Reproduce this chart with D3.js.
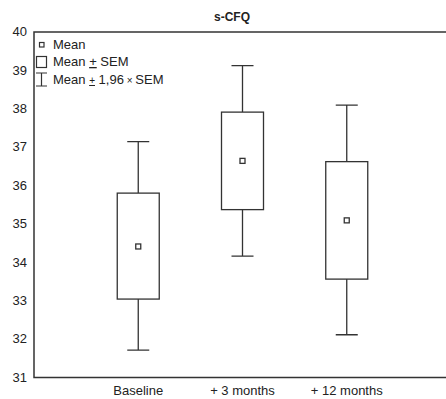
<!DOCTYPE html>
<html>
<head>
<meta charset="utf-8">
<script src="https://cdn.jsdelivr.net/npm/d3@7"></script>
<style>
  body { margin: 0; background: #fff; }
  text { font-family: "Liberation Sans", Arial, sans-serif; fill: #222; }
</style>
</head>
<body>
<div id="chart"></div>
<script>
// data
var categories = ["Baseline", "+ 3 months", "+ 12 months"];
var means = [34.40, 36.63, 35.08];
var semLow = [33.03, 35.36, 33.55];
var semHigh = [35.79, 37.90, 36.61];
var ciLow = [31.70, 34.15, 32.10];
var ciHigh = [37.13, 39.11, 38.08];
var yTicks = [31, 32, 33, 34, 35, 36, 37, 38, 39, 40];

var svgWidth = 446;
var svgHeight = 399;
var margin = { top: 32, bottom: 22, left: 34, right: 0 };
var lineColor = "#333";

var svg = d3.select("#chart")
    .append("svg")
    .attr("width", svgWidth)
    .attr("height", svgHeight);

var xScale = d3.scaleLinear()
    .domain([0, 4])
    .range([margin.left, 451]);

var yScale = d3.scaleLinear()
    .domain([31, 40])
    .range([377, 31.5]);

// title
svg.append("text")
    .attr("x", 232)
    .attr("y", 20.5)
    .attr("text-anchor", "middle")
    .style("font-weight", "bold")
    .style("font-size", "12px")
    .text("s-CFQ");

// y axis labels (no tick marks)
var yAxis = d3.axisLeft(yScale).tickValues(yTicks).tickSize(0).tickPadding(7);
var yG = svg.append("g")
    .attr("transform", `translate(${margin.left},0)`)
    .call(yAxis);
yG.select(".domain").remove();
yG.selectAll("text")
    .style("font-size", "13px")
    .style("font-family", "Liberation Sans, Arial, sans-serif")
    .attr("fill", "#222");

// frame: left, top, bottom
svg.append("path")
    .attr("d", `M446,32H${margin.left}V377.5H446`)
    .attr("fill", "none")
    .attr("stroke", lineColor)
    .attr("stroke-width", 1.5);

// x labels
svg.selectAll(".xlab")
    .data(categories)
    .enter()
    .append("text")
    .attr("class", "xlab")
    .attr("x", (d, i) => xScale(i + 1))
    .attr("y", 395)
    .attr("text-anchor", "middle")
    .style("font-size", "13px")
    .text(d => d);

var idx = d3.range(categories.length);
var boxW = 42, capW = 22;

var g = svg.append("g")
    .attr("stroke", lineColor)
    .attr("stroke-width", 1.3)
    .attr("fill", "none");

// whiskers
g.selectAll(".whisker")
    .data(idx)
    .enter()
    .append("path")
    .attr("d", i => {
        var cx = xScale(i + 1);
        return `M${cx},${yScale(ciHigh[i])}V${yScale(semHigh[i])}` +
            `M${cx},${yScale(semLow[i])}V${yScale(ciLow[i])}` +
            `M${cx - capW / 2},${yScale(ciHigh[i])}h${capW}` +
            `M${cx - capW / 2},${yScale(ciLow[i])}h${capW}`;
    });

// boxes
g.selectAll(".box")
    .data(idx)
    .enter()
    .append("rect")
    .attr("x", i => xScale(i + 1) - boxW / 2)
    .attr("y", i => yScale(semHigh[i]))
    .attr("width", boxW)
    .attr("height", i => yScale(semLow[i]) - yScale(semHigh[i]))
    .attr("fill", "#fff");

// mean markers
g.selectAll(".mean")
    .data(idx)
    .enter()
    .append("rect")
    .attr("x", i => xScale(i + 1) - 2.5)
    .attr("y", i => yScale(means[i]) - 2.5)
    .attr("width", 5)
    .attr("height", 5)
    .attr("fill", "#fff");

// legend
var leg = svg.append("g");
leg.append("rect")
    .attr("x", 39.5).attr("y", 42.5).attr("width", 4.5).attr("height", 4.5)
    .attr("fill", "#fff").attr("stroke", lineColor).attr("stroke-width", 1.2);
leg.append("text").attr("x", 53).attr("y", 49).style("font-size", "13px").text("Mean");

leg.append("rect")
    .attr("x", 36.5).attr("y", 56.5).attr("width", 10).attr("height", 11)
    .attr("fill", "#fff").attr("stroke", lineColor).attr("stroke-width", 1.2);
var t2 = leg.append("text").attr("x", 53).attr("y", 66).style("font-size", "13px");
t2.append("tspan").text("Mean ");
t2.append("tspan").style("text-decoration", "underline").text("+");
t2.append("tspan").text(" SEM");

leg.append("path")
    .attr("d", "M36,73H47M41.5,73V86M36,86H47")
    .attr("fill", "none").attr("stroke", lineColor).attr("stroke-width", 1.2);
var t3 = leg.append("text").attr("x", 53).attr("y", 84).style("font-size", "13px");
t3.append("tspan").text("Mean ");
t3.append("tspan").style("font-size", "10px").style("text-decoration", "underline").text("+");
t3.append("tspan").text(" 1,96");
t3.append("tspan").style("font-size", "10px").text(" \u00d7 ");
t3.append("tspan").text("SEM");
</script>
</body>
</html>
